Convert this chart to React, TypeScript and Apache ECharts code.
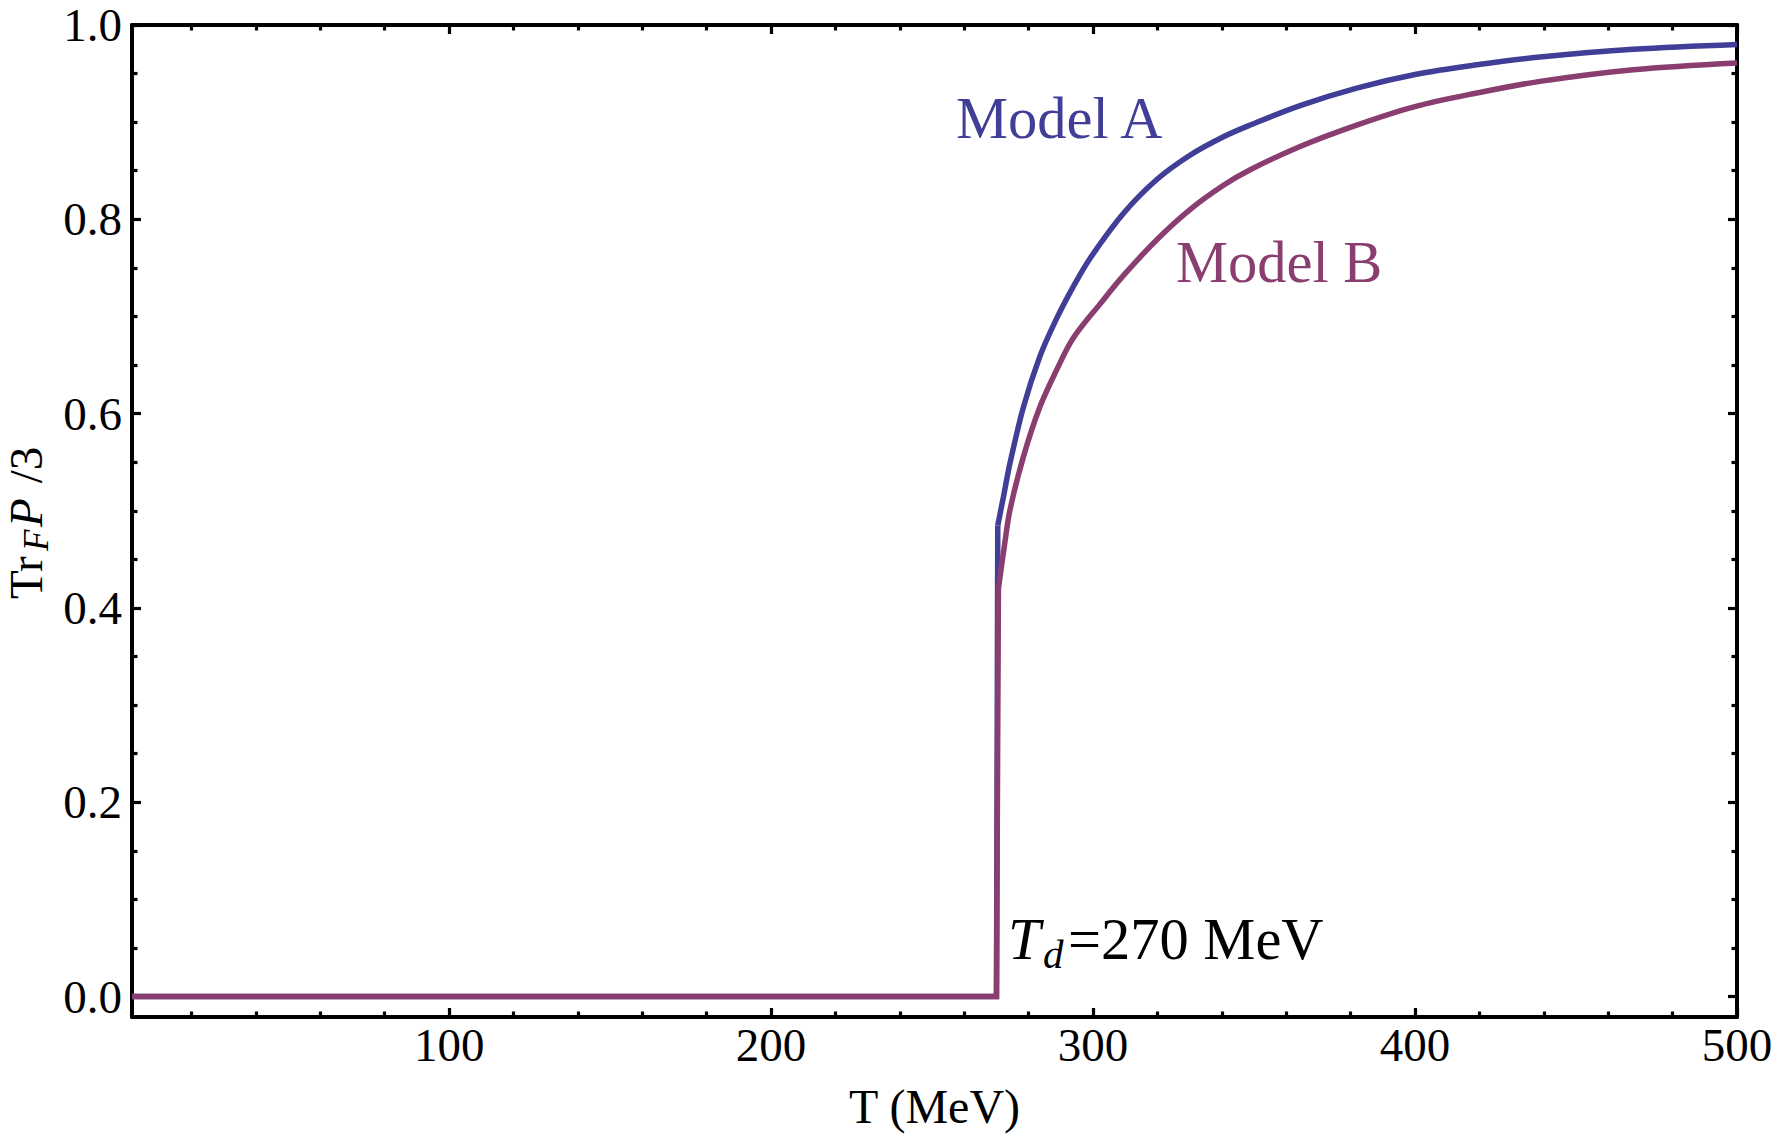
import React, { useEffect, useRef } from "react";
import * as echarts from "echarts";

// ---- data ----
const X_MIN = 1.5;
const X_MAX = 500;
const Y_MIN = -0.021;
const Y_MAX = 1.0;

const X_MAJOR = [100, 200, 300, 400, 500];
const X_MINOR = [20, 40, 60, 80, 120, 140, 160, 180, 220, 240, 260, 280, 320, 340, 360, 380, 420, 440, 460, 480];
const Y_MAJOR = [0, 0.2, 0.4, 0.6, 0.8, 1.0];
const Y_MINOR = [0.05, 0.1, 0.15, 0.25, 0.3, 0.35, 0.45, 0.5, 0.55, 0.65, 0.7, 0.75, 0.85, 0.9, 0.95];

// index 2 of each list is the top of the jump at T_d
const T_A = [1.5, 270, 270.4, 272.2, 274.2, 278.4, 283.5, 288.7, 293.9, 299.1, 309.4, 319.8, 330.1, 340.5, 348.8, 364.3, 381.9, 400, 419.2, 438.8, 467.8, 500];
const P_A = [0, 0, 0.485, 0.515, 0.549, 0.607, 0.659, 0.698, 0.731, 0.76, 0.806, 0.841, 0.866, 0.885, 0.897, 0.917, 0.935, 0.949, 0.959, 0.967, 0.975, 0.98];

const T_B = [1.5, 270, 270.6, 272.5, 274.2, 278.4, 283.5, 288.7, 293.9, 302.2, 309.4, 319.8, 330.1, 340.5, 348.8, 364.3, 381.9, 400, 419.2, 438.8, 467.8, 500];
const P_B = [0, 0, 0.42, 0.465, 0.501, 0.556, 0.607, 0.645, 0.678, 0.713, 0.742, 0.779, 0.81, 0.835, 0.851, 0.875, 0.897, 0.916, 0.93, 0.942, 0.954, 0.961];

const JUMP_TOP = 2;

const LABEL_A = "Model A";
const LABEL_B = "Model B";
const X_NAME = "T (MeV)";

const COLOR_A = "#403e96";
const COLOR_B = "#8a3e70";
const FONT = "'Liberation Serif', 'Times New Roman', Times, serif";

const W = 1777;
const H = 1137;

export default function App() {
  const ref = useRef<HTMLDivElement>(null);

  useEffect(() => {
    document.body.style.margin = "0";
    if (!ref.current) return;
    const chart = echarts.init(ref.current, null, { renderer: "svg" });

    const black = "#000";
    const majorTick = (values: number[]) => ({
      show: true,
      inside: true,
      length: 9,
      customValues: values,
      lineStyle: { color: black, width: 3.2 },
    });
    const minorTick = (values: number[]) => ({
      show: true,
      inside: true,
      length: 5.5,
      customValues: values,
      lineStyle: { color: black, width: 3.2 },
    });
    const lineOn = { show: true, onZero: false, lineStyle: { color: black, width: 4 } };
    const lineOff = { show: false, onZero: false };

    const xBase = { type: "value", min: X_MIN, max: X_MAX, splitLine: { show: false } };
    const yBase = { type: "value", min: Y_MIN, max: Y_MAX, splitLine: { show: false } };

    const pairs = (T: number[], P: number[]) => T.map((t, i) => [t, P[i]]);
    const dataA = pairs(T_A, P_A);
    const dataB = pairs(T_B, P_B);

    const mkSeries = (name: string, data: number[][], color: string, smooth: boolean) => ({
      type: "line",
      name,
      xAxisIndex: 0,
      yAxisIndex: 0,
      data,
      showSymbol: false,
      symbol: "none",
      smooth: smooth ? 0.35 : false,
      z: 2,
      lineStyle: { color, width: 5.5, join: "miter", cap: "butt" },
      itemStyle: { color },
    });

    const txt = (
      text: string,
      x: number,
      y: number,
      size: number,
      color: string,
      italic = false,
      lineHeight?: number
    ) => ({
      type: "text",
      x,
      y,
      style: {
        text,
        fill: color,
        fontSize: size,
        fontStyle: italic ? "italic" : "normal",
        fontFamily: FONT,
        lineHeight: lineHeight ?? size,
        align: "left",
        verticalAlign: "middle",
        textAlign: "left",
        textVerticalAlign: "middle",
      },
    });

    const option: any = {
      animation: false,
      backgroundColor: "#fff",
      grid: {
        left: 132,
        right: 40,
        top: 25,
        bottom: 120,
        containLabel: false,
        outerBoundsMode: "none",
      },
      xAxis: [
        {
          ...xBase,
          position: "bottom",
          axisLine: lineOn,
          axisTick: majorTick(X_MAJOR),
          axisLabel: {
            show: true,
            customValues: X_MAJOR,
            margin: 4,
            color: black,
            fontSize: 47,
            fontFamily: FONT,
          },
          name: X_NAME,
          nameLocation: "middle",
          nameGap: 65,
          nameTextStyle: { color: black, fontSize: 48, fontFamily: FONT },
        },
        { ...xBase, position: "bottom", axisLine: lineOff, axisTick: minorTick(X_MINOR), axisLabel: { show: false } },
        { ...xBase, position: "top", axisLine: lineOn, axisTick: majorTick(X_MAJOR), axisLabel: { show: false } },
        { ...xBase, position: "top", axisLine: lineOff, axisTick: minorTick(X_MINOR), axisLabel: { show: false } },
      ],
      yAxis: [
        {
          ...yBase,
          position: "left",
          axisLine: lineOn,
          axisTick: majorTick(Y_MAJOR),
          axisLabel: {
            show: true,
            customValues: Y_MAJOR,
            margin: 10,
            color: black,
            fontSize: 47,
            fontFamily: FONT,
            formatter: (v: number) => v.toFixed(1),
          },
        },
        { ...yBase, position: "left", axisLine: lineOff, axisTick: minorTick(Y_MINOR), axisLabel: { show: false } },
        { ...yBase, position: "right", axisLine: lineOn, axisTick: majorTick(Y_MAJOR), axisLabel: { show: false } },
        { ...yBase, position: "right", axisLine: lineOff, axisTick: minorTick(Y_MINOR), axisLabel: { show: false } },
      ],
      series: [
        mkSeries(LABEL_A, dataA.slice(0, JUMP_TOP + 1), COLOR_A, false),
        mkSeries(LABEL_A, dataA.slice(JUMP_TOP), COLOR_A, true),
        mkSeries(LABEL_B, dataB.slice(0, JUMP_TOP + 1), COLOR_B, false),
        mkSeries(LABEL_B, dataB.slice(JUMP_TOP), COLOR_B, true),
      ],
      graphic: [
        txt(LABEL_A, 956, 118.5, 58.5, COLOR_A),
        txt(LABEL_B, 1176, 262, 58.5, COLOR_B),
        txt("T", 1008, 939, 58.5, black, true),
        txt("d", 1043, 953.5, 41, black, true),
        txt("=270 MeV", 1068, 939, 58.5, black),
        {
          type: "group",
          x: 5.5,
          y: 599,
          rotation: Math.PI / 2,
          children: [
            txt("Tr", 0, 20.8, 47, black, false, 38),
            txt("F", 48, 31.2, 35, black, true, 30),
            txt("P", 72, 20.8, 47, black, true, 38),
            txt(" /3", 104, 20.8, 47, black, false, 38),
          ],
        },
      ],
    };

    chart.setOption(option);
    return () => {
      chart.dispose();
    };
  }, []);

  return <div ref={ref} style={{ width: W, height: H, background: "#fff" }} />;
}
